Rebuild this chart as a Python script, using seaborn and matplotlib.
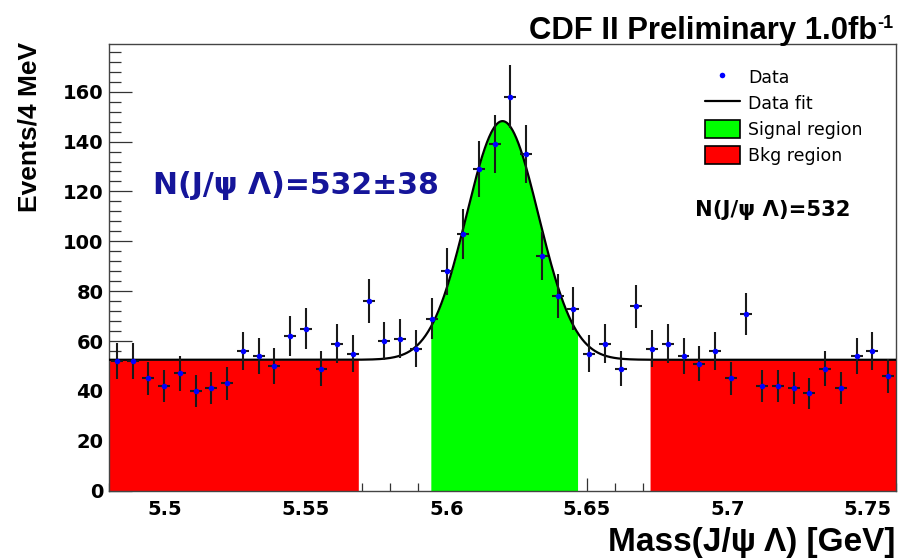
import numpy as np
import pandas as pd
import matplotlib
matplotlib.use("Agg")
import matplotlib.pyplot as plt
from matplotlib.lines import Line2D
from matplotlib.patches import Patch
from matplotlib.ticker import MultipleLocator, FixedLocator, FixedFormatter
import seaborn as sns

# J/psi Lambda invariant mass spectrum, 50 bins between 5.48 and 5.76 GeV
mass_range = (5.48, 5.76)
n_bins = 50
counts = [52, 52, 45, 42, 47, 40, 41, 43, 56, 54,
          50, 62, 65, 49, 59, 55, 76, 60, 61, 57,
          69, 88, 103, 129, 139, 158, 135, 94, 78, 73,
          55, 59, 49, 74, 57, 59, 54, 51, 56, 45,
          71, 42, 42, 41, 39, 49, 41, 54, 56, 46]

# Gaussian signal on a flat background
fit_background = 52.5
fit_peak = 95.7
fit_mean = 5.620
fit_sigma = 0.0128
signal_yield = 532
signal_yield_err = 38

signal_region = (5.5945, 5.6467)
bkg_regions = [(5.48, 5.5687), (5.6725, 5.76)]

x_ticks = [5.5, 5.55, 5.6, 5.65, 5.7, 5.75]
x_tick_labels = ["5.5", "5.55", "5.6", "5.65", "5.7", "5.75"]
y_ticks = [0, 20, 40, 60, 80, 100, 120, 140, 160]
y_max = 179

sns.set_theme(style="white")
plt.rcParams["font.family"] = ["DejaVu Sans"]
plt.rcParams.update({"text.color": "black", "axes.labelcolor": "black",
                     "xtick.color": "black", "ytick.color": "black"})

W, H = 899, 559
fig = plt.figure(figsize=(W / 100, H / 100), dpi=100)
ax = fig.add_axes([109 / W, 1 - 490.7 / H, 787 / W, 446.4 / H])
ax.set_axisbelow(True)

edges = np.linspace(mass_range[0], mass_range[1], n_bins + 1)
bin_width = edges[1] - edges[0]
data = pd.DataFrame({"mass": 0.5 * (edges[:-1] + edges[1:]), "events": counts})
data["err"] = np.sqrt(data["events"])


def fit_curve(m):
    return fit_background + fit_peak * np.exp(-0.5 * ((m - fit_mean) / fit_sigma) ** 2)


# shaded regions under the fit
for lo, hi in bkg_regions:
    g = np.linspace(lo, hi, 400)
    ax.fill_between(g, 0, fit_curve(g), color="#ff0000", lw=0, zorder=1)
g = np.linspace(*signal_region, 400)
ax.fill_between(g, 0, fit_curve(g), color="#00ff00", lw=0, zorder=1)

# fit line
grid = np.linspace(mass_range[0], mass_range[1], 1500)
fit_df = pd.DataFrame({"mass": grid, "fit": fit_curve(grid)})
sns.lineplot(data=fit_df, x="mass", y="fit", color="black", lw=1.6, ax=ax, zorder=3)

# data with Poisson errors
ax.errorbar(data["mass"], data["events"], yerr=data["err"], xerr=bin_width * 0.38,
            fmt="none", ecolor="#1a1a1a", elinewidth=1.5, capsize=0, zorder=4)
sns.scatterplot(data=data, x="mass", y="events", color="#0000ff", s=16,
                linewidth=0, ax=ax, zorder=5)

ax.set_xlim(*mass_range)
ax.set_ylim(0, y_max)

ax.xaxis.set_major_locator(FixedLocator(x_ticks))
ax.xaxis.set_major_formatter(FixedFormatter(x_tick_labels))
ax.xaxis.set_minor_locator(MultipleLocator(0.01))
ax.yaxis.set_major_locator(FixedLocator(y_ticks))
ax.yaxis.set_minor_locator(MultipleLocator(4))

ax.tick_params(axis="both", which="both", direction="in", color="#333333", width=0.9,
               labelsize=14, labelcolor="black",
               left=True, bottom=True, top=False, right=False)
ax.tick_params(axis="y", which="major", length=16.5, pad=4)
ax.tick_params(axis="y", which="minor", length=8.5)
ax.tick_params(axis="x", which="major", length=9.5, pad=6.5)
ax.tick_params(axis="x", which="minor", length=5.5)
for lab in ax.get_xticklabels() + ax.get_yticklabels():
    lab.set_fontweight("bold")

for side, sp in ax.spines.items():
    sp.set_color("#444444")
    sp.set_linewidth(1.0)
    sp.set_visible(True)

title_font = ["Liberation Sans", "DejaVu Sans"]

ax.set_xlabel("Mass(J/\u03c8 \u039b) [GeV]", loc="right", fontsize=24,
              fontweight="bold", family=title_font)
ax.xaxis.label.set(va="center")
ax.xaxis.set_label_coords((895 - 109) / 787, (490.7 - 542) / 446.4)

ax.set_ylabel("Events/4 MeV", fontsize=19, fontweight="bold", family=title_font)
ax.yaxis.label.set(rotation_mode="default", ha="center", va="top")
ax.yaxis.set_label_coords((30 - 109) / 787, (490.7 - 42) / 446.4)

# header
head = fig.text(877 / W, 1 - 39 / H, "CDF II Preliminary 1.0fb", ha="right",
                va="baseline", fontsize=22.3, fontweight="bold", family=title_font)
ax.annotate("-1", xy=(1.0, 1.0), xycoords=head, xytext=(0.5, 1),
            textcoords="offset points", ha="left", va="top", fontsize=13,
            fontweight="bold", family=title_font)

# yield labels
ax.text((153 - 109) / 787, (490.7 - 186) / 446.4,
        f"N(J/\u03c8 \u039b)={signal_yield}\u00b1{signal_yield_err}",
        transform=ax.transAxes, ha="left", va="center", fontsize=21.5,
        fontweight="bold", color="#15159a")
ax.text((695 - 109) / 787, (490.7 - 210) / 446.4,
        f"N(J/\u03c8 \u039b)={signal_yield}",
        transform=ax.transAxes, ha="left", va="center", fontsize=15.2,
        fontweight="bold", color="black")

handles = [
    Line2D([], [], ls="none", marker="o", ms=4, color="#0000ff", mew=0),
    Line2D([], [], color="black", lw=1.6),
    Patch(facecolor="#00ff00", edgecolor="black", lw=1.2),
    Patch(facecolor="#ff0000", edgecolor="black", lw=1.2),
]
ax.legend(handles, ["Data", "Data fit", "Signal region", "Bkg region"],
          loc="upper left", bbox_to_anchor=((705 - 109) / 787, (490.7 - 68) / 446.4),
          frameon=False, fontsize=12.5, handlelength=2.0, handleheight=1.2,
          handletextpad=0.5, labelspacing=0.42, borderpad=0, borderaxespad=0)

fig.savefig("out.png", dpi=100, facecolor="white")
